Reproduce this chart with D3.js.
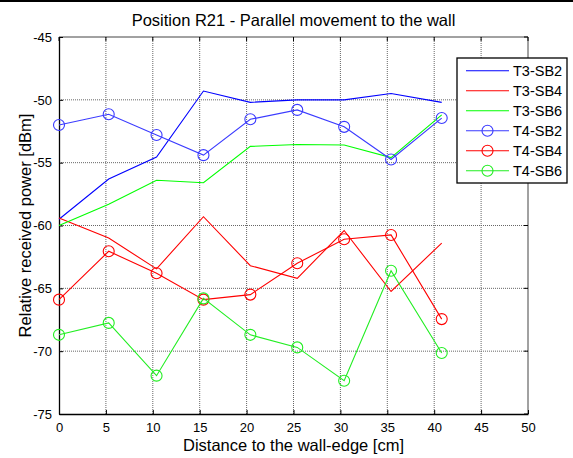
<!DOCTYPE html>
<html>
<head>
<meta charset="utf-8">
<script src="https://cdnjs.cloudflare.com/ajax/libs/d3/7.8.5/d3.min.js"></script>
<style>
  body { margin: 0; background: #fff; }
  text { font-family: "Liberation Sans", Arial, sans-serif; }
</style>
</head>
<body>
<script>
var w = 573, h = 458;
var margin = {top: 37, right: 45, bottom: 44, left: 59};

// distance positions [cm]
var distance = [0, 5.3, 10.4, 15.4, 20.4, 25.4, 30.4, 35.4, 40.8];

var t3sb2 = [-59.5, -56.3, -54.55, -49.3, -50.2, -50.0, -50.0, -49.5, -50.2];
var t3sb4 = [-59.4, -61.0, -63.45, -59.3, -63.2, -64.2, -60.4, -65.25, -61.4];
var t3sb6 = [-60.0, -58.3, -56.4, -56.6, -53.7, -53.55, -53.6, -54.6, -51.2];
var t4sb2 = [-52.0, -51.15, -52.8, -54.4, -51.55, -50.8, -52.15, -54.75, -51.45];
var t4sb4 = [-65.9, -62.05, -63.8, -65.9, -65.5, -63.0, -61.1, -60.75, -67.45];
var t4sb6 = [-68.7, -67.75, -71.95, -65.8, -68.7, -69.7, -72.35, -63.6, -70.15];

var xTicks = [0, 5, 10, 15, 20, 25, 30, 35, 40, 45, 50];
var yTicks = [-75, -70, -65, -60, -55, -50, -45];

var series = [
  {name: "T3-SB2", values: t3sb2, color: "#0000ff", marker: false},
  {name: "T3-SB4", values: t3sb4, color: "#ff0000", marker: false},
  {name: "T3-SB6", values: t3sb6, color: "#00ff00", marker: false},
  {name: "T4-SB2", values: t4sb2, color: "#3a3aff", marker: true},
  {name: "T4-SB4", values: t4sb4, color: "#ff0000", marker: true},
  {name: "T4-SB6", values: t4sb6, color: "#22ee22", marker: true}
];

var svg = d3.select("body").append("svg")
  .attr("width", w)
  .attr("height", h);

svg.append("rect").attr("x", 0).attr("y", 0).attr("width", w).attr("height", h).attr("fill", "#fff");
svg.append("rect").attr("x", 0).attr("y", 0).attr("width", w).attr("height", 2).attr("fill", "#000");

var x = d3.scaleLinear().domain([0, 50]).range([margin.left, w - margin.right]);
var y = d3.scaleLinear().domain([-75, -45]).range([h - margin.bottom, margin.top]);

// grid
svg.append("g").selectAll("line").data(xTicks.slice(1, -1)).enter().append("line")
  .attr("x1", function (d) { return x(d); }).attr("x2", function (d) { return x(d); })
  .attr("y1", y(-75)).attr("y2", y(-45))
  .attr("stroke", "#666").attr("stroke-width", 1).attr("stroke-dasharray", "1,1");
svg.append("g").selectAll("line").data(yTicks.slice(1, -1)).enter().append("line")
  .attr("y1", function (d) { return y(d); }).attr("y2", function (d) { return y(d); })
  .attr("x1", x(0)).attr("x2", x(50))
  .attr("stroke", "#666").attr("stroke-width", 1).attr("stroke-dasharray", "1,1");

// box top/right
svg.append("line").attr("x1", x(0)).attr("x2", x(50)).attr("y1", y(-45)).attr("y2", y(-45))
  .attr("stroke", "#444").attr("stroke-width", 1);
svg.append("line").attr("x1", x(50)).attr("x2", x(50)).attr("y1", y(-45)).attr("y2", y(-75))
  .attr("stroke", "#444").attr("stroke-width", 1);

// axes
var fmt = function (d) { return String(d); };
var xAxis = svg.append("g")
  .attr("transform", "translate(0," + y(-75) + ")")
  .call(d3.axisBottom(x).tickValues(xTicks).tickFormat(fmt).tickSizeInner(-4).tickSizeOuter(0).tickPadding(9));
var yAxis = svg.append("g")
  .attr("transform", "translate(" + x(0) + ",0)")
  .call(d3.axisLeft(y).tickValues(yTicks).tickFormat(fmt).tickSizeInner(-4).tickSizeOuter(0).tickPadding(7));
[xAxis, yAxis].forEach(function (a) {
  a.select(".domain").attr("stroke", "#000").attr("stroke-width", 1.3);
  a.selectAll("text").attr("font-size", 13).attr("fill", "#000")
    .attr("font-family", "Liberation Sans, Arial, sans-serif");
});
// top and right ticks
svg.append("g").selectAll("line").data(xTicks).enter().append("line")
  .attr("x1", function (d) { return x(d); }).attr("x2", function (d) { return x(d); })
  .attr("y1", y(-45)).attr("y2", y(-45) + 4).attr("stroke", "#000");
svg.append("g").selectAll("line").data(yTicks).enter().append("line")
  .attr("y1", function (d) { return y(d); }).attr("y2", function (d) { return y(d); })
  .attr("x1", x(50)).attr("x2", x(50) - 4).attr("stroke", "#000");

// series
var line = d3.line()
  .x(function (d, i) { return x(distance[i]); })
  .y(function (d) { return y(d); });

series.forEach(function (s) {
  svg.append("path")
    .datum(s.values)
    .attr("d", line)
    .attr("fill", "none")
    .attr("stroke", s.color)
    .attr("stroke-width", 1.1);
  if (s.marker) {
    svg.append("g").selectAll("circle").data(s.values).enter().append("circle")
      .attr("cx", function (d, i) { return x(distance[i]); })
      .attr("cy", function (d) { return y(d); })
      .attr("r", 5.5)
      .attr("fill", "none")
      .attr("stroke", s.color)
      .attr("stroke-width", 1.1);
  }
});

// labels
svg.append("text").attr("x", (x(0) + x(50)) / 2).attr("y", 25.5)
  .attr("text-anchor", "middle").attr("font-size", 16.5).text("Position R21 - Parallel movement to the wall");
svg.append("text").attr("x", (x(0) + x(50)) / 2).attr("y", 451)
  .attr("text-anchor", "middle").attr("font-size", 16.5).text("Distance to the wall-edge [cm]");
svg.append("text")
  .attr("transform", "translate(31," + (y(-75) + y(-45)) / 2 + ") rotate(-90)")
  .attr("text-anchor", "middle").attr("font-size", 16.5).text("Relative received power [dBm]");

// legend
var lg = svg.append("g").attr("transform", "translate(457,58)");
lg.append("rect").attr("width", 110).attr("height", 125)
  .attr("fill", "#fff").attr("stroke", "#000").attr("stroke-width", 1.3);
series.forEach(function (s, i) {
  var ly = 12.7 + i * 20;
  lg.append("line").attr("x1", 9).attr("x2", 52).attr("y1", ly).attr("y2", ly)
    .attr("stroke", s.color).attr("stroke-width", 1.1);
  if (s.marker) {
    lg.append("circle").attr("cx", 30.5).attr("cy", ly).attr("r", 5.5)
      .attr("fill", "none").attr("stroke", s.color).attr("stroke-width", 1.1);
  }
  lg.append("text").attr("x", 56).attr("y", ly + 5).attr("font-size", 14.5).text(s.name);
});
</script>
</body>
</html>
